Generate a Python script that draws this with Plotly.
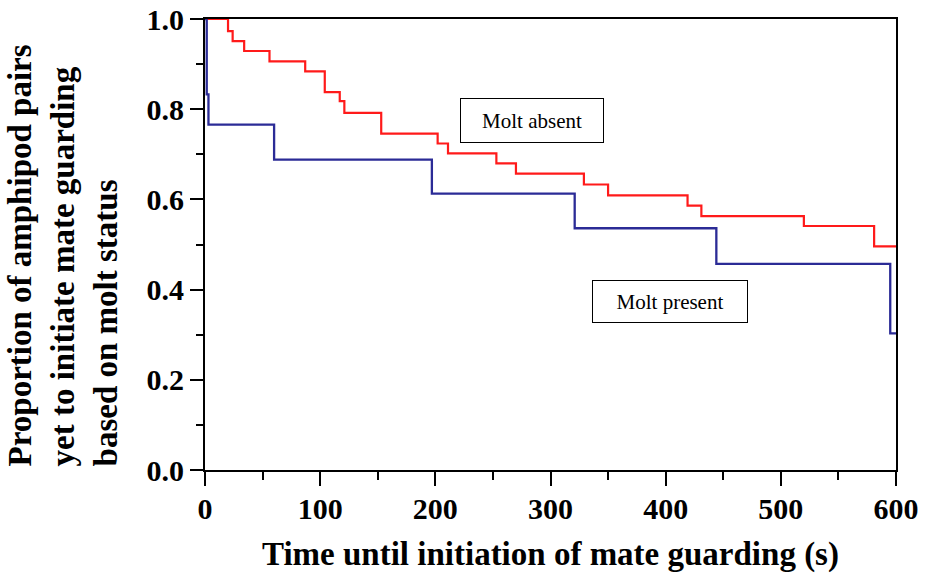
import plotly.graph_objects as go

# Kaplan-Meier style step curves: time (s) at which each step occurs and the
# proportion of pairs that have not yet started mate guarding after that step.
absent_time = [0, 20, 24, 34, 56, 87, 104, 117, 121, 153, 202, 211, 253, 270,
               329, 350, 419, 431, 520, 581, 600]
absent_prop = [1.0, 0.973, 0.951, 0.929, 0.906, 0.884, 0.838, 0.818, 0.792,
               0.746, 0.724, 0.702, 0.680, 0.657, 0.633, 0.609, 0.586, 0.563,
               0.541, 0.496, 0.496]

present_time = [0, 1.5, 3, 60, 197, 321, 444, 595, 600]
present_prop = [1.0, 0.833, 0.766, 0.688, 0.613, 0.536, 0.457, 0.303, 0.303]

x_ticks = [0, 100, 200, 300, 400, 500, 600]
y_ticks = [0.0, 0.2, 0.4, 0.6, 0.8, 1.0]

series_labels = ["Molt absent", "Molt present"]
x_title = "Time until initiation of mate guarding (s)"
y_title = ("Proportion of amphipod pairs<br>yet to initiate mate guarding"
           "<br>based on molt status")

SERIF = "Liberation Serif"
fig = go.Figure()

fig.add_trace(go.Scatter(
    x=absent_time, y=absent_prop, mode="lines", line_shape="hv",
    line=dict(color="#ff1a1a", width=2.2), name=series_labels[0],
    showlegend=False,
))
fig.add_trace(go.Scatter(
    x=present_time, y=present_prop, mode="lines", line_shape="hv",
    line=dict(color="#2b2b96", width=2.3), name=series_labels[1],
    showlegend=False,
))

axis_common = dict(
    showline=True, linecolor="black", linewidth=2, mirror=True,
    ticks="outside", tickcolor="black", tickwidth=2,
    showgrid=False, zeroline=False,
    tickfont=dict(family=SERIF, size=30, color="black", weight="bold"),
)

fig.update_xaxes(
    range=[0, 600], tickvals=x_ticks, ticklen=14, ticklabelstandoff=-3,
    minor=dict(dtick=50, ticks="outside", ticklen=8, tickwidth=2,
               tickcolor="black", showgrid=False),
    title=dict(text=x_title, standoff=18,
               font=dict(family=SERIF, size=33, color="black", weight="bold")),
    **axis_common,
)
fig.update_yaxes(
    range=[0, 1], tickvals=y_ticks, tickformat=".1f", ticklen=13,
    minor=dict(dtick=0.1, ticks="outside", ticklen=7, tickwidth=2,
               tickcolor="black", showgrid=False),
    **axis_common,
)

# Multi-line y-axis title, lines aligned to the bottom of the axis
fig.add_annotation(
    text=y_title, textangle=-90, align="left",
    xref="paper", yref="paper", x=-0.206, y=0.475,
    xanchor="center", yanchor="middle", showarrow=False,
    font=dict(family=SERIF, size=33, color="black", weight="bold"),
)

# Boxed series labels
box_style = dict(showarrow=False, bordercolor="black", borderwidth=1,
                 bgcolor="white", borderpad=0,
                 font=dict(family=SERIF, size=21, color="black"))
fig.add_annotation(text=series_labels[0], x=284, y=0.774, xref="x", yref="y",
                   width=142, height=43, **box_style)
fig.add_annotation(text=series_labels[1], x=404, y=0.374, xref="x", yref="y",
                   width=154, height=41, **box_style)

fig.update_layout(
    width=926, height=573,
    margin=dict(l=205, r=30, t=19, b=103, autoexpand=False),
    paper_bgcolor="white", plot_bgcolor="white",
)

fig.write_html("out.html")
